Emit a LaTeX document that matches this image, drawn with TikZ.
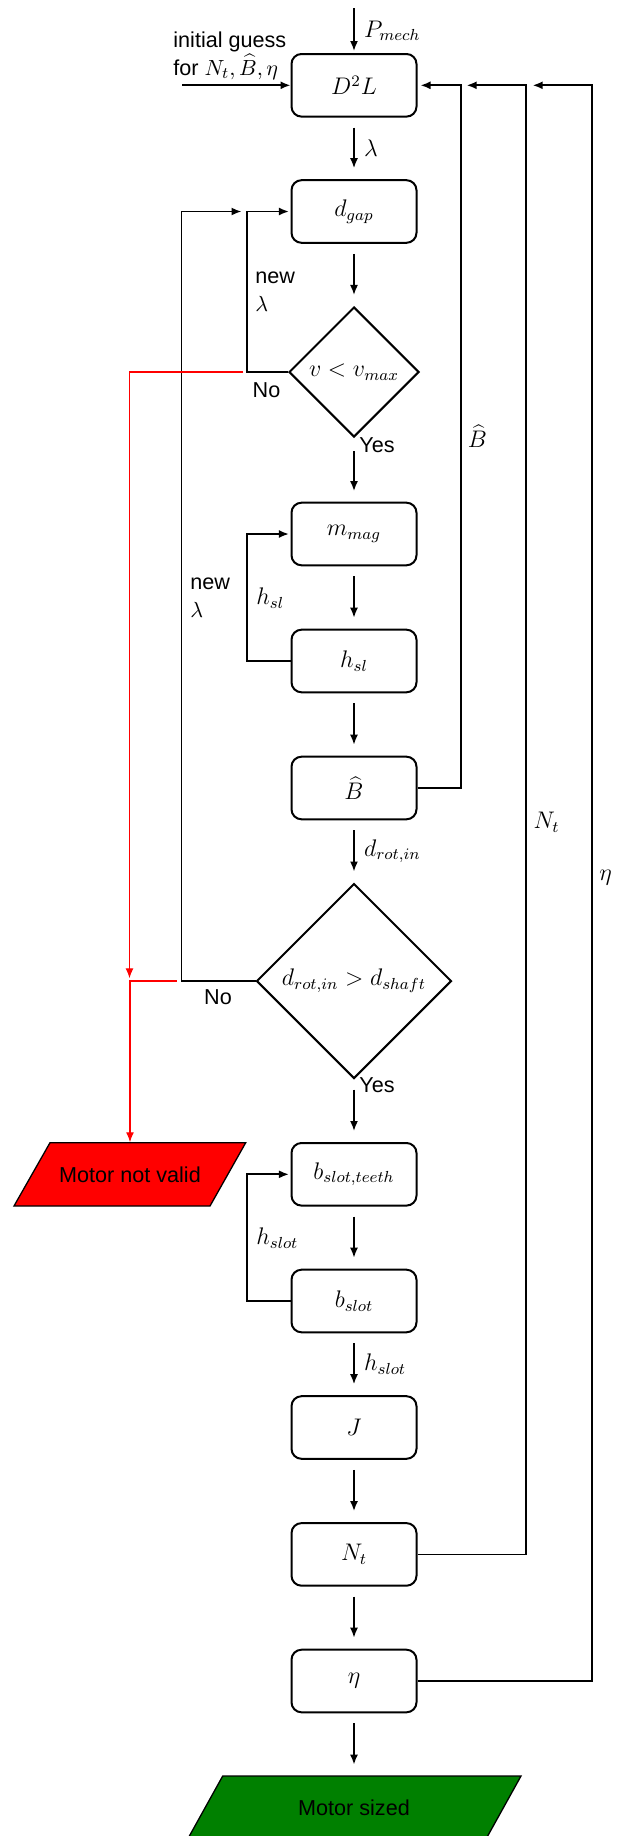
\documentclass[tikz,border=0pt]{standalone}
\usepackage{fontspec}
\setmainfont{Liberation Sans}
\usetikzlibrary{shapes.geometric,arrows.meta}
\definecolor{mgreen}{RGB}{0,128,0}
\newcommand{\txtsz}{\fontsize{10.8}{14}\selectfont}
\newcommand{\mthsz}{\fontsize{12}{14}\selectfont}
\begin{document}
\begin{tikzpicture}[x=0.5pt,y=-0.5pt,
  box/.style={draw, line width=1pt, rounded corners=5pt, minimum width=62.5pt, minimum height=31.3pt, inner sep=0pt, font=\mthsz},
  dec/.style={draw, diamond, aspect=1, inner sep=0pt, line width=1pt, font=\mthsz},
  conn/.style={line width=0.85pt, -{Latex[length=5pt,width=4pt]}},
  flow/.style={conn, shorten <=5pt, shorten >=5.5pt},
  redc/.style={red, line width=0.65pt, -{Latex[length=5pt,width=4pt]}},
  txt/.style={inner sep=0pt, font=\txtsz},
  mlbl/.style={inner sep=0pt, font=\mthsz},
  alab/.style={mlbl, midway, anchor=west, xshift=4.65pt},
  para/.style={draw=black, line width=0.65pt}]
\clip (0,0) rectangle (616,1836);
% end shapes
\filldraw[para, fill=red] (50,1142.7) -- (245.7,1142.7) -- (210,1206) -- (14,1206) -- cycle;
\node[txt, minimum height=31.65pt] (mnv) at (130,1174.3) {Motor not valid};
\filldraw[para, fill=mgreen] (222.7,1776) -- (521,1776) -- (486,1839) -- (187.7,1839) -- cycle;
\node[txt, minimum height=31.5pt] (ms) at (354,1807.5) {Motor sized};
% main nodes
\node[box] (d2l) at (354,85.3) {$D^2L$};
\node[box] (dgap) at (354,211.5) {$d_{gap}$};
\node[dec, minimum size=65pt] (v) at (354,372) {$v<v_{max}$};
\node[box] (mmag) at (354,534) {$m_{mag}$};
\node[box] (hsl) at (354,661) {$h_{sl}$};
\node[box] (bh) at (354,788) {$\widehat{B}$};
\node[dec, minimum size=97.5pt] (dr) at (354,981) {$d_{rot,in}>d_{shaft}$};
\node[box] (bst) at (354,1174.3) {$b_{slot,teeth}$};
\node[box] (bs) at (354,1301) {$b_{slot}$};
\node[box] (J) at (354,1427.5) {$J$};
\node[box] (nt) at (354,1554.4) {$N_t$};
\node[box] (eta) at (354,1681) {$\eta$};
% coordinates
\coordinate (pin) at (354,8.3);
\coordinate (ig) at (182,85.3);
\coordinate (c1) at (246.7,372);
\coordinate (r1s) at (243.3,372);
\coordinate (r1c) at (129.5,372);
\coordinate (r1t) at (129.5,978.3);
\coordinate (r2s) at (176.7,981);
\coordinate (c2) at (181.5,981);
\coordinate (c2t) at (241.5,211.5);
\coordinate (c3) at (246.7,661);
\coordinate (c4) at (246.7,1301);
\coordinate (c5) at (461,788);
\coordinate (c6) at (526,1554.4);
\coordinate (c6t) at (466.7,85.3);
\coordinate (c7) at (591.7,1681);
\coordinate (c7t) at (532.7,85.3);
% main flow
\draw[conn, shorten >=1pt] (pin) -- node[alab] {$P_{mech}$} (d2l);
\draw[conn] (ig) -- (d2l.west);
\draw[flow] (d2l) -- node[alab] {$\lambda$} (dgap);
\draw[flow] (dgap) -- (v);
\draw[conn, shorten <=6.5pt, shorten >=5.3pt] (v) -- (mmag);
\draw[flow] (mmag) -- (hsl);
\draw[flow] (hsl) -- (bh);
\draw[flow] (bh) -- node[alab] {$d_{rot,in}$} (dr);
\draw[flow] (dr) -- (bst);
\draw[flow] (bst) -- (bs);
\draw[flow] (bs) -- node[alab] {$h_{slot}$} (J);
\draw[flow] (J) -- (nt);
\draw[flow] (nt) -- (eta);
\draw[flow] (eta) -- (ms);
% loops
\draw[conn, shorten >=0.8pt] (v.west) -- (c1) |- (dgap.west);
\draw[conn] (dr.west) -- (c2) |- (c2t);
\draw[conn, shorten >=0.8pt] (hsl.west) -- (c3) |- (mmag.west);
\draw[conn, shorten >=0.8pt] (bs.west) -- (c4) |- (bst.west);
\draw[conn, shorten >=1.5pt] (bh.east) -- (c5) |- (d2l.east);
\draw[conn] (nt.east) -- (c6) |- (c6t);
\draw[conn] (eta.east) -- (c7) |- (c7t);
% red paths
\draw[redc] (r1s) -- (r1c) -- (r1t);
\draw[redc] (r2s) -| (mnv.north);
% labels
\node[txt, anchor=west, align=left] (igl) at (173,55.5) {initial guess\\for $N_t,\widehat{B},\eta$};
\node[txt] (no1) at (266.5,390) {No};
\node[txt, anchor=west] (yes1) at (359,445) {Yes};
\node[txt, anchor=west, align=left] (nl1) at (255,292) {new\\$\lambda$};
\node[txt, anchor=west, align=left] (nl2) at (190,598) {new\\$\lambda$};
\node[txt] (no2) at (218,997.3) {No};
\node[txt, anchor=west] (yes2) at (359,1085) {Yes};
\node[mlbl, anchor=west] (lhsl) at (256,598) {$h_{sl}$};
\node[mlbl, anchor=west] (lhslot) at (256,1238) {$h_{slot}$};
\node[mlbl] (lbh) at (477.5,436) {$\widehat{B}$};
\node[mlbl] (lnt) at (546.5,822) {$N_t$};
\node[mlbl] (leta) at (605.5,878) {$\eta$};
\end{tikzpicture}
\end{document}
